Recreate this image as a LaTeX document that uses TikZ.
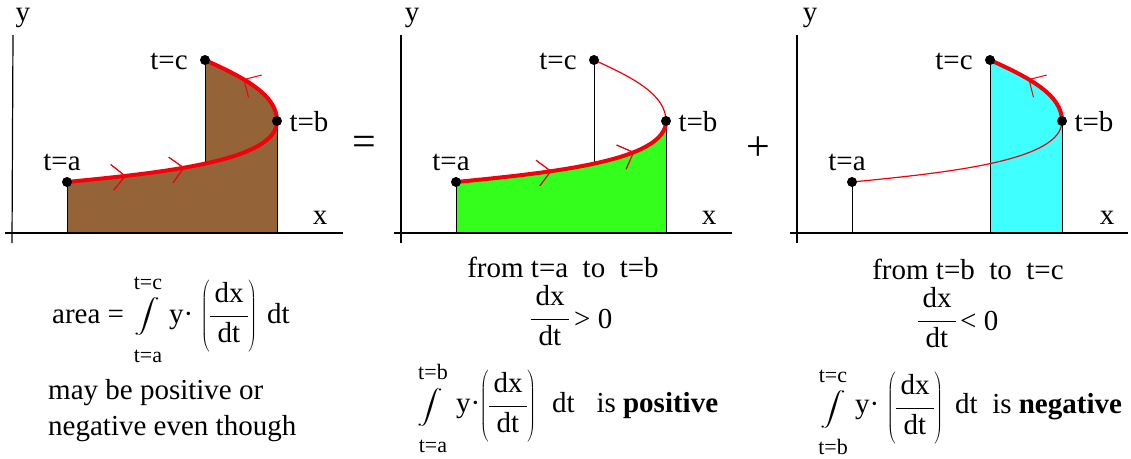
\documentclass[tikz,border=0pt]{standalone}
\usepackage{fontspec}
\setmainfont{Liberation Serif}
\usepackage{graphicx}
\usetikzlibrary{decorations.markings}
\definecolor{brownfill}{RGB}{148,100,56}
\definecolor{greenfill}{RGB}{52,255,28}
\definecolor{cyanfill}{RGB}{64,255,255}
\definecolor{curvered}{RGB}{245,0,10}
\newcommand{\fracpar}[2]{$\left(\vcenter{\hbox{\begin{tabular}{@{\,}c@{\,}}#1\\[4pt]\hline\rule{0pt}{26pt}#2\end{tabular}}}\right)$}
\newcommand{\fracplain}[2]{$\vcenter{\hbox{\begin{tabular}{@{\,}c@{\,}}#1\\[4pt]\hline\rule{0pt}{26pt}#2\end{tabular}}}$}
\tikzset{
  axisline/.style={line width=1.2pt, black},
  vline/.style={line width=1pt, black},
  thickcurve/.style={line width=4pt, curvered},
  thincurve/.style={line width=1.2pt, curvered},
  dotnode/.style={circle, fill=black, inner sep=0pt, minimum size=10pt},
  lbl/.style={font=\fontsize{29}{29}\selectfont, inner sep=0pt},
  txt/.style={font=\fontsize{29}{32}\selectfont, inner sep=0pt},
  limnode/.style={font=\fontsize{22}{22}\selectfont, inner sep=0pt},
  intnode/.style={inner sep=0pt},
  bigsym/.style={font=\fontsize{42}{42}\selectfont, inner sep=0pt},
  chev/.style={decoration={markings, mark=at position #1 with {\draw[curvered, line width=1pt] (-13pt,13pt) -- (0pt,0pt) -- (-13pt,-13pt);}}, postaction={decorate}},
}
\newcommand{\intglyph}{\scalebox{1.5}[1]{\resizebox*{!}{38pt}{$\displaystyle\int$}}}
\begin{document}
\begin{tikzpicture}[x=1pt,y=-1pt]
\useasboundingbox (0,0) rectangle (1131,458);

% ---------------- panel 1 ----------------
\coordinate (o1) at (12,232);
\coordinate (a1) at (67,182);
\coordinate (b1) at (277,121);
\coordinate (c1) at (205,60);
\coordinate (m1) at (205,163);
\fill[brownfill] (a1 |- o1) -- (a1) .. controls (170,172) and (277,160) .. (b1) .. controls (277,95) and (245,78) .. (c1) -- (c1 |- o1) -- cycle;
\fill[brownfill] (a1 |- o1) -- (a1) .. controls (170,172) and (277,160) .. (b1) -- (b1 |- o1) -- cycle;
\draw[vline] (a1) -- (a1 |- o1);
\draw[vline] (c1) -- (m1);
\draw[vline] (b1) -- (b1 |- o1);
\draw[axisline] (13,35) -- (12,243);
\draw[axisline] (5,233) -- (343,233);
\node[lbl] (y1) at (23,18) {y};
\node[lbl] (x1) at (320,218) {x};
\draw[thickcurve, chev=0.256, chev=0.515] (a1) .. controls (170,172) and (277,160) .. (b1);
\draw[thickcurve, chev=0.56] (b1) .. controls (277,95) and (245,78) .. (c1);
\node[dotnode] (da1) at (a1) {};
\node[dotnode] (db1) at (b1) {};
\node[dotnode] (dc1) at (c1) {};
\node[lbl] (la1) at ([shift={(-5,-20)}]a1) {t=a};
\node[lbl] (lb1) at ([shift={(32,1)}]b1) {t=b};
\node[lbl] (lc1) at ([shift={(-36,1)}]c1) {t=c};

\node[bigsym] (eq) at (364,146) {=};

% ---------------- panel 2 ----------------
\begin{scope}[xshift=389pt]
\coordinate (o2) at (12,232);
\coordinate (a2) at (67,182);
\coordinate (b2) at (277,121);
\coordinate (c2) at (205,60);
\coordinate (m2) at (205,163);
\fill[greenfill] (a2 |- o2) -- (a2) .. controls (170,172) and (277,160) .. (b2) -- (b2 |- o2) -- cycle;
\draw[vline] (a2) -- (a2 |- o2);
\draw[vline] (c2) -- (m2);
\draw[vline] (b2) -- (b2 |- o2);
\draw[axisline] (12,35) -- (12,243);
\draw[axisline] (5,233) -- (343,233);
\node[lbl] (y2) at (23,18) {y};
\node[lbl] (x2) at (320,218) {x};
\draw[thincurve] (b2) .. controls (277,95) and (245,78) .. (c2);
\draw[thickcurve, chev=0.418, chev=0.79] (a2) .. controls (170,172) and (277,160) .. (b2);
\node[dotnode] (da2) at (a2) {};
\node[dotnode] (db2) at (b2) {};
\node[dotnode] (dc2) at (c2) {};
\node[lbl] (la2) at ([shift={(-5,-20)}]a2) {t=a};
\node[lbl] (lb2) at ([shift={(32,1)}]b2) {t=b};
\node[lbl] (lc2) at ([shift={(-36,1)}]c2) {t=c};
\end{scope}

\node[bigsym] (plus) at (758,149) {+};

% ---------------- panel 3 ----------------
\begin{scope}[xshift=785pt]
\coordinate (o3) at (12,232);
\coordinate (a3) at (67,182);
\coordinate (b3) at (277,121);
\coordinate (c3) at (205,60);
\fill[cyanfill] (c3 |- o3) -- (c3) .. controls (245,78) and (277,95) .. (b3) -- (b3 |- o3) -- cycle;
\draw[vline] (a3) -- (a3 |- o3);
\draw[vline] (c3) -- (c3 |- o3);
\draw[vline] (b3) -- (b3 |- o3);
\draw[axisline] (12,35) -- (12,243);
\draw[axisline] (5,233) -- (343,233);
\node[lbl] (y3) at (25,18) {y};
\node[lbl] (x3) at (322,218) {x};
\draw[thincurve] (a3) .. controls (170,172) and (277,160) .. (b3);
\draw[thickcurve, chev=0.56] (b3) .. controls (277,95) and (245,78) .. (c3);
\node[dotnode] (da3) at (a3) {};
\node[dotnode] (db3) at (b3) {};
\node[dotnode] (dc3) at (c3) {};
\node[lbl] (la3) at ([shift={(-5,-20)}]a3) {t=a};
\node[lbl] (lb3) at ([shift={(32,1)}]b3) {t=b};
\node[lbl] (lc3) at ([shift={(-36,1)}]c3) {t=c};
\end{scope}

% ---------------- formula 1 ----------------
\node[txt, anchor=base west] (area) at (52,323) {area =};
\node[intnode] (int1) at (147,316) {\intglyph};
\node[limnode] (int1up) at (148,283) {t=c};
\node[limnode] (int1lo) at (148,356) {t=a};
\node[txt, anchor=base west] (yd1) at (169,323) {y·};
\node[txt] (fr1) at (229,316) {\fracpar{dx}{dt}};
\node[txt, anchor=base west] (dt1) at (267,323) {dt};
\node[txt, anchor=west] (m1t) at (48,393) {may be positive or};
\node[txt, anchor=west] (m2t) at (48,429) {negative even though};

% ---------------- formula 2 ----------------
\node[txt] (from2) at (563,267) {from t=a\ \ to\ \ t=b};
\node[txt] (d2) at (550,319) {\fracplain{dx}{dt}};
\node[txt, anchor=west] (gt2) at (574,319) {> 0};
\node[limnode] (int2up) at (433,372) {t=b};
\node[intnode] (int2) at (430,407) {\intglyph};
\node[limnode] (int2lo) at (433,446) {t=a};
\node[txt, anchor=base west] (yd2) at (456,412) {y·};
\node[txt] (fr2) at (508,406) {\fracpar{dx}{dt}};
\node[txt, anchor=base west] (dt2) at (552,412) {dt\ \ \ is \textbf{positive}};

% ---------------- formula 3 ----------------
\node[txt] (from3) at (968,269) {from t=b\ \ to\ \ t=c};
\node[txt] (d3) at (937,321) {\fracplain{dx}{dt}};
\node[txt, anchor=west] (lt3) at (960,321) {< 0};
\node[limnode] (int3up) at (833,376) {t=c};
\node[intnode] (int3) at (833,409) {\intglyph};
\node[limnode] (int3lo) at (833,447) {t=b};
\node[txt, anchor=base west] (yd3) at (855,413) {y·};
\node[txt] (fr3) at (915,408) {\fracpar{dx}{dt}};
\node[txt, anchor=base west] (dt3) at (955,413) {dt\ \ is \textbf{negative}};
\end{tikzpicture}
\end{document}
